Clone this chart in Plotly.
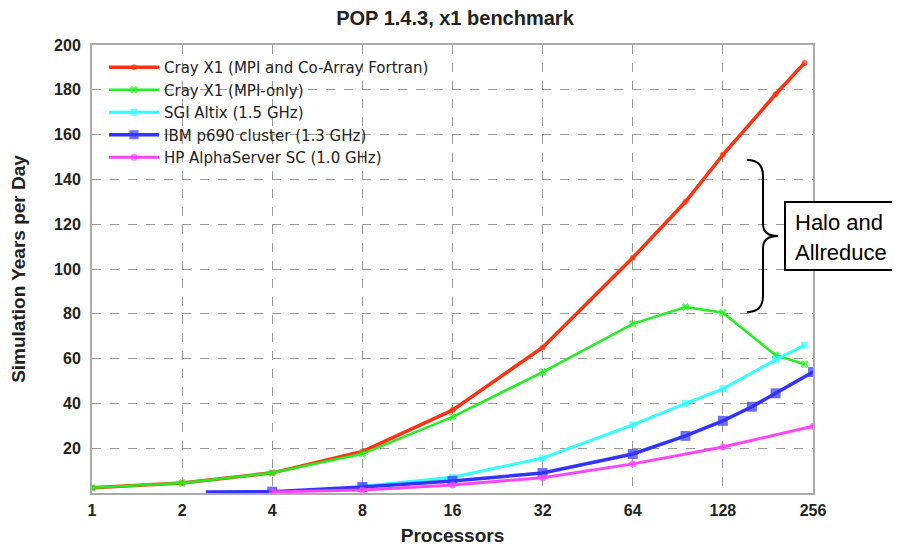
import plotly.graph_objects as go

# ---- data ----
cray_caf_x = [1, 2, 4, 8, 16, 32, 64, 96, 128, 192, 240]
cray_caf_y = [2.3, 4.5, 9, 18.5, 37, 65, 105, 130, 151, 178, 192]

cray_mpi_x = [1, 2, 4, 8, 16, 32, 64, 96, 128, 192, 240]
cray_mpi_y = [2.3, 4.5, 9, 17.5, 34, 54, 75.5, 83, 80.5, 61.5, 57.5]

altix_x = [8, 16, 32, 64, 96, 128, 192, 240]
altix_y = [3, 7, 15.6, 30.4, 40, 46.5, 59.5, 66]

ibm_x = [2.4, 4, 8, 16, 32, 64, 96, 128, 160, 192, 256]
ibm_y = [0.5, 0.6, 2.7, 5.4, 8.9, 17.4, 25.5, 32.2, 38.5, 44.5, 54]

hp_x = [4, 8, 16, 32, 64, 128, 256]
hp_y = [0.5, 1.3, 3.6, 6.8, 13, 20.5, 29.8]

x_ticks = [1, 2, 4, 8, 16, 32, 64, 128, 256]
y_ticks = [20, 40, 60, 80, 100, 120, 140, 160, 180, 200]

names = ["Cray X1 (MPI and Co-Array Fortran)", "Cray X1 (MPI-only)",
         "SGI Altix (1.5 GHz)", "IBM p690 cluster (1.3 GHz)",
         "HP AlphaServer SC (1.0 GHz)"]

# ---- layout geometry (page pixels; the page body adds an 8px offset) ----
OFF = 8
W, H = 900 - OFF, 546 - OFF
L, R, T, B = 92, 813, 45, 493


def px(xp):
    return (xp - L) / (R - L)


def py(yp):
    return (B - yp) / (B - T)


fig = go.Figure()

series = [
    (cray_caf_x, cray_caf_y, "#ff3311", "circle", 6, 3.5),
    (cray_mpi_x, cray_mpi_y, "#22ee22", "x", 7, 2.5),
    (altix_x, altix_y, "#33ffff", "square", 7, 3),
    (ibm_x, ibm_y, "#3333ff", "square", 10, 3.5),
    (hp_x, hp_y, "#ff44ff", "circle", 7, 3),
]
for (xs, ys, col, sym, size, lw), name in zip(series, names):
    sizes = [size] * len(xs)
    if name.startswith("IBM"):
        sizes[0] = 0
    fig.add_trace(go.Scatter(
        x=xs, y=ys, name=name, mode="lines+markers",
        line=dict(color=col, width=lw),
        marker=dict(color=col, symbol=sym, size=sizes, line=dict(width=0)),
    ))

shapes = []
# curly brace
bx0, bx1, bx2 = 747, 763, 778
ytop, ymid, ybot = 160, 236, 312
path = (f"M {px(bx0)},{py(ytop)} Q {px(bx1)},{py(ytop)} {px(bx1)},{py(ytop+16)} "
        f"L {px(bx1)},{py(ymid-12)} Q {px(bx1)},{py(ymid)} {px(bx2)},{py(ymid)} "
        f"Q {px(bx1)},{py(ymid)} {px(bx1)},{py(ymid+12)} "
        f"L {px(bx1)},{py(ybot-16)} Q {px(bx1)},{py(ybot)} {px(bx0)},{py(ybot)}")
shapes.append(dict(type="path", xref="paper", yref="paper", path=path,
                   line=dict(color="black", width=2)))
# text box
shapes.append(dict(type="rect", xref="paper", yref="paper",
                   x0=px(785), x1=px(910), y0=py(270), y1=py(202),
                   line=dict(color="black", width=2), fillcolor="white"))

annotations = [
    dict(text="Halo and", xref="paper", yref="paper", x=px(793), y=py(222),
         xanchor="left", yanchor="middle", showarrow=False,
         font=dict(family="Liberation Sans, Arial", size=22, color="black")),
    dict(text="Allreduce", xref="paper", yref="paper", x=px(793), y=py(252),
         xanchor="left", yanchor="middle", showarrow=False,
         font=dict(family="Liberation Sans, Arial", size=22, color="black")),
]

axis_font = dict(family="Liberation Sans, Arial", size=16, color="#222")
fig.update_layout(
    width=W, height=H,
    margin=dict(l=L - OFF, r=900 - R, t=T - OFF, b=546 - B, autoexpand=False),
    paper_bgcolor="white", plot_bgcolor="white",
    title=dict(text="<b>POP 1.4.3, x1 benchmark</b>", x=px(455), xref="paper", xanchor="center",
               y=1.0, yref="container", yanchor="top", pad=dict(t=3),
               font=dict(family="Liberation Sans, Arial", size=20, color="#222")),
    showlegend=True,
    legend=dict(x=px(104), y=py(51), xanchor="left", yanchor="top",
                bgcolor="rgba(0,0,0,0)", itemwidth=50,
                font=dict(family="DejaVu Sans", size=15, color="#222"),
                tracegroupgap=0),
    shapes=shapes, annotations=annotations,
)
fig.update_xaxes(type="log", range=[0, 2.40824], tickvals=x_ticks,
                 ticktext=["<b>%d</b>" % v for v in x_ticks], automargin=False,
                 showgrid=True, gridcolor="#999", griddash="dash", gridwidth=1,
                 showline=True, linecolor="#aaa", linewidth=2, mirror=True,
                 ticks="", tickfont=axis_font, zeroline=False, ticklabelstandoff=2,
                 title=dict(text="<b>Processors</b>", standoff=14,
                            font=dict(family="Liberation Sans, Arial", size=19, color="#222")))
fig.update_yaxes(range=[0, 200], tickvals=y_ticks,
                 ticktext=["<b>%d</b>" % v for v in y_ticks], automargin=False,
                 showgrid=True, gridcolor="#999", griddash="dash", gridwidth=1,
                 showline=True, linecolor="#aaa", linewidth=2, mirror=True,
                 ticks="", tickfont=axis_font, zeroline=False, ticklabelstandoff=6,
                 title=dict(text="<b>Simulation Years per Day</b>", standoff=24,
                            font=dict(family="Liberation Sans, Arial", size=19, color="#222")))

fig.write_html("out.html")
